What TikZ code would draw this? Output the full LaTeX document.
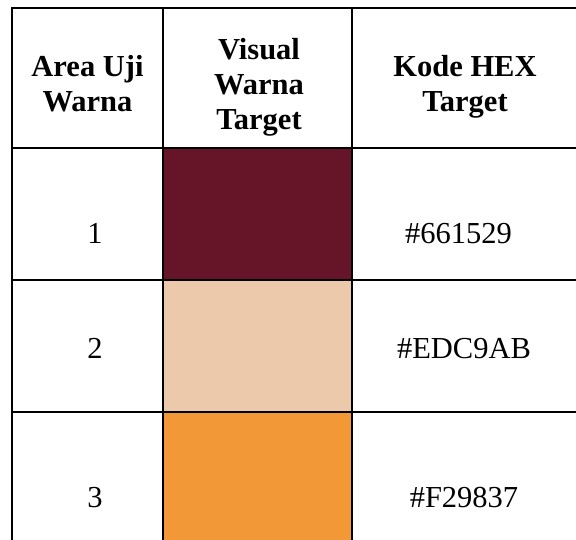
\documentclass[tikz,border=0pt]{standalone}
\usepackage{fontspec}
\setmainfont{Liberation Serif}
\definecolor{swatchA}{HTML}{661529}
\definecolor{swatchB}{HTML}{EDC9AB}
\definecolor{swatchC}{HTML}{F29837}
\begin{document}
\begin{tikzpicture}[x=1pt,y=-1pt,
  grid/.style={line width=2pt, black},
  hdr/.style={font=\fontsize{30.5}{35}\selectfont\bfseries, anchor=base, inner sep=0pt},
  cell/.style={font=\fontsize{30.5}{35}\selectfont, anchor=base, inner sep=0pt}]
\useasboundingbox (0,0) rectangle (576,539);
% colour swatches
\fill[swatchA] (163.3,147.7) rectangle (352.3,280);
\fill[swatchB] (163.3,280) rectangle (352.3,411.7);
\fill[swatchC] (163.3,411.7) rectangle (352.3,545);
% grid
\draw[grid] (12,545) -- (12,7.7) -- (580,7.7);
\draw[grid] (12,147.7) -- (580,147.7);
\draw[grid] (12,280) -- (580,280);
\draw[grid] (12,411.7) -- (580,411.7);
\draw[grid] (163.3,7.7) -- (163.3,545);
\draw[grid] (352.3,7.7) -- (352.3,545);
% header
\node[hdr] (h1a) at (87.5,76.7) {Area Uji};
\node[hdr] (h1b) at (87.5,111.7) {Warna};
\node[hdr] (h2a) at (259,59) {Visual};
\node[hdr] (h2b) at (259,94) {Warna};
\node[hdr] (h2c) at (259,129) {Target};
\node[hdr] (h3a) at (465,76.7) {Kode HEX};
\node[hdr] (h3b) at (465,111.7) {Target};
% body
\node[cell] (n1) at (95,243) {1};
\node[cell] (x1) at (458.5,243) {\#661529};
\node[cell] (n2) at (95,358.5) {2};
\node[cell] (x2) at (464,358.5) {\#EDC9AB};
\node[cell] (n3) at (95,507.5) {3};
\node[cell] (x3) at (464,507.5) {\#F29837};
\end{tikzpicture}
\end{document}
